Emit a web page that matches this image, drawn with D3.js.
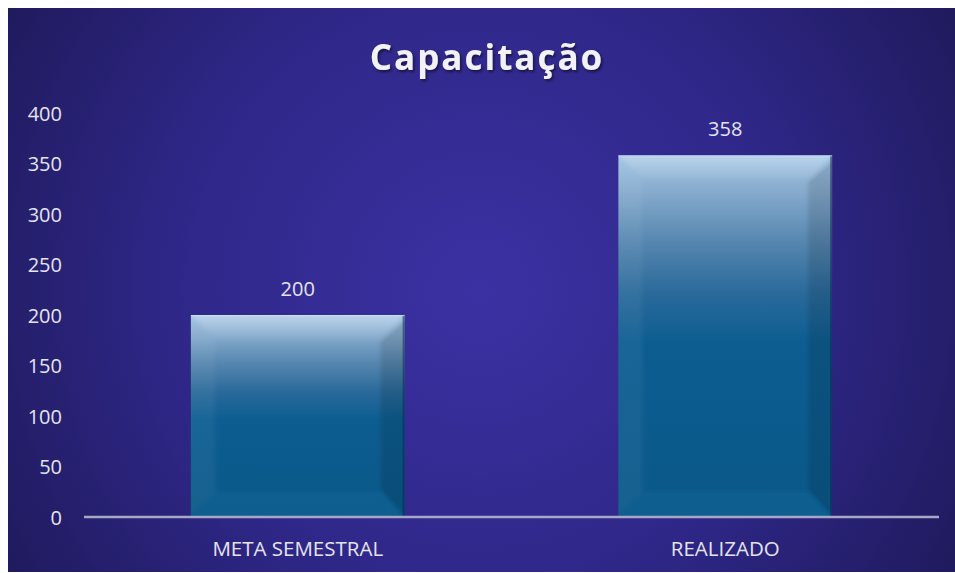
<!DOCTYPE html>
<html><head><meta charset="utf-8">
<script src="https://cdn.jsdelivr.net/npm/d3@7"></script>
<style>body{margin:0;background:#fff}svg{display:block}</style>
</head><body>
<svg id="c" width="955" height="573"></svg>
<script>
const title = "Capacitação";
const categories = ["META SEMESTRAL", "REALIZADO"];
const values = [200, 358];
const yTicks = [0, 50, 100, 150, 200, 250, 300, 350, 400];

const W = 955, H = 573;
const svg = d3.select("#c");
const defs = svg.append("defs");

const bg = defs.append("radialGradient").attr("id","bg")
  .attr("gradientUnits","userSpaceOnUse").attr("cx",480).attr("cy",290).attr("r",560);
bg.append("stop").attr("offset","0").attr("stop-color","#3c31a3");
bg.append("stop").attr("offset","0.55").attr("stop-color","#2f2788");
bg.append("stop").attr("offset","1").attr("stop-color","#1f1a5c");

const bar = defs.append("linearGradient").attr("id","bar").attr("x1",0).attr("y1",0).attr("x2",0).attr("y2",1);
[["0","#a2c4e4"],["0.1","#86abcd"],["0.24","#5686af"],["0.38","#2a6a9b"],["0.52","#0d5d91"],["1","#0a5889"]]
  .forEach(([o,c])=>bar.append("stop").attr("offset",o).attr("stop-color",c));

const topG = defs.append("linearGradient").attr("id","topb").attr("x1",0).attr("y1",0).attr("x2",0).attr("y2",1);
topG.append("stop").attr("offset","0").attr("stop-color","#ffffff").attr("stop-opacity",0.3);
topG.append("stop").attr("offset","1").attr("stop-color","#ffffff").attr("stop-opacity",0.04);

const f = defs.append("filter").attr("id","ts").attr("x","-10%").attr("y","-30%").attr("width","120%").attr("height","160%");
f.append("feDropShadow").attr("dx",1.5).attr("dy",2).attr("stdDeviation",1.5).attr("flood-color","#000").attr("flood-opacity",0.55);

const blur = defs.append("filter").attr("id","soft").attr("x","-5%").attr("y","-5%").attr("width","110%").attr("height","110%");
blur.append("feGaussianBlur").attr("stdDeviation",2);

svg.append("rect").attr("x",8).attr("y",8).attr("width",W-8).attr("height",H-9).attr("fill","url(#bg)");

const x = d3.scaleBand().domain(categories).range([84, 939]).paddingInner(0.5).paddingOuter(0.25);
const y = d3.scaleLinear().domain([0, 400]).range([517, 113]);

const font = "'Open Sans', 'Noto Sans', sans-serif";

// y axis labels
const yAxis = d3.axisLeft(y).tickValues(yTicks).tickSize(0).tickPadding(0).tickFormat(d3.format("d"));
const ya = svg.append("g").attr("transform","translate(62,0)").call(yAxis);
ya.select(".domain").remove();
ya.selectAll("text").attr("fill","#e4e4ef").attr("font-family",font).attr("font-size",20).attr("dy","0.35em");

// bars
const bw = x.bandwidth();
const bv = 24;
const g = svg.append("g");
categories.forEach((c,i)=>{
  const x0 = x(c), x1 = x0 + bw, y0 = y(values[i]), y1 = y(0) - 1;
  const b = Math.min(bv, (y1-y0)/2);
  const cid = "clip" + i;
  defs.append("clipPath").attr("id",cid).append("rect").attr("x",x0).attr("y",y0).attr("width",bw).attr("height",y1-y0);
  const gg = g.append("g");
  gg.append("rect").attr("x",x0).attr("y",y0).attr("width",bw).attr("height",y1-y0).attr("fill","url(#bar)");
  const bev = gg.append("g").attr("clip-path",`url(#${cid})`).append("g").attr("filter","url(#soft)");
  // top bevel
  bev.append("path").attr("d",`M${x0-4},${y0-4}L${x1+4},${y0-4}L${x1-b},${y0+b}L${x0+b},${y0+b}Z`).attr("fill","url(#topb)");
  // left bevel
  bev.append("path").attr("d",`M${x0-4},${y0}L${x0+b},${y0+b}L${x0+b},${y1-b}L${x0-4},${y1+4}Z`).attr("fill","#ffffff").attr("fill-opacity",0.05);
  // right bevel
  bev.append("path").attr("d",`M${x1+4},${y0}L${x1-b},${y0+b}L${x1-b},${y1-b}L${x1+4},${y1+4}Z`).attr("fill","#000020").attr("fill-opacity",0.12);
  // bottom bevel
  bev.append("path").attr("d",`M${x0},${y1+4}L${x0+b},${y1-b}L${x1-b},${y1-b}L${x1},${y1+4}Z`).attr("fill","#40a8d8").attr("fill-opacity",0.08);
  // edges
  gg.append("line").attr("x1",x1-1).attr("x2",x1-1).attr("y1",y0).attr("y2",y1).attr("stroke","#0a2a50").attr("stroke-opacity",0.55).attr("stroke-width",2);
  gg.append("line").attr("x1",x0).attr("x2",x1).attr("y1",y0+0.5).attr("y2",y0+0.5).attr("stroke","#d0e4f6").attr("stroke-opacity",0.7);
  // value label
  svg.append("text").attr("x",x0+bw/2).attr("y",y0-19).attr("text-anchor","middle")
    .attr("fill","#e4e4ef").attr("font-family",font).attr("font-size",20).text(values[i]);
});

// x axis
const xAxis = d3.axisBottom(x).tickSize(0).tickPadding(0);
const xa = svg.append("g").attr("transform","translate(0,517)").call(xAxis);
xa.select(".domain").attr("stroke","#a7a7c7").attr("stroke-width",2.5).attr("d","M84,0H939");
xa.selectAll("text").attr("fill","#e4e4ef").attr("font-family",font).attr("font-size",20.5).attr("dy","0").attr("y",39);

// title
svg.append("text").attr("x",487).attr("y",70).attr("text-anchor","middle")
  .attr("fill","#f2f2f6").attr("font-family",font).attr("font-weight",700).attr("font-size",35)
  .attr("letter-spacing",2).attr("filter","url(#ts)").text(title);
</script>
</body></html>
